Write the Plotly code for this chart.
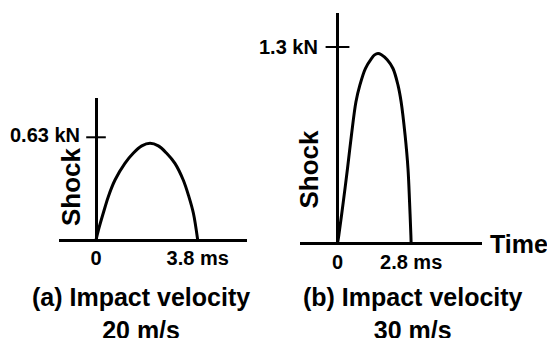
import plotly.graph_objects as go

# ---- data ----
time_a = [0, 0.09, 0.27, 0.46, 0.71, 1.08, 1.39, 1.71, 2.02, 2.33, 2.64, 2.95, 3.26, 3.47, 3.64, 3.8]
shock_a = [0, 0.061, 0.164, 0.266, 0.368, 0.47, 0.532, 0.577, 0.593, 0.577, 0.532, 0.47, 0.368, 0.266, 0.164, 0]

time_b = [0, 0.05, 0.22, 0.38, 0.53, 0.70, 0.85, 1.06, 1.29, 1.41, 1.54, 1.67, 1.89, 2.11, 2.30, 2.42, 2.57, 2.68, 2.74, 2.79, 2.8]
shock_b = [0, 0.055, 0.275, 0.496, 0.716, 0.936, 1.047, 1.157, 1.223, 1.247, 1.256, 1.248, 1.215, 1.157, 1.047, 0.936, 0.716, 0.496, 0.275, 0.055, 0]

xtick_vals_a = [0, 3.8]
xtick_text_a = ["0", "3.8 ms"]
xtick_vals_b = [0, 2.8]
xtick_text_b = ["0", "2.8 ms"]

ymark_a = 0.63
ymark_text_a = "0.63 kN"
ymark_b = 1.3
ymark_text_b = "1.3 kN"

title_a = "(a) Impact velocity<br>20 m/s"
title_b = "(b) Impact velocity<br>30 m/s"
ylabel = "Shock"
xlabel = "Time"

FONT = "Liberation Sans, Arial, Helvetica, sans-serif"
W, H = 547, 338


def f(size):
    return dict(family=FONT, size=size, color="black", weight="bold")


fig = go.Figure()

line_style = dict(color="black", width=3, shape="spline", smoothing=1.0)
fig.add_trace(go.Scatter(x=time_a, y=shock_a, mode="lines", line=line_style,
                         xaxis="x", yaxis="y", showlegend=False, hoverinfo="skip"))
fig.add_trace(go.Scatter(x=time_b, y=shock_b, mode="lines", line=line_style,
                         xaxis="x2", yaxis="y2", showlegend=False, hoverinfo="skip"))
# tick marks crossing the vertical axis
fig.add_trace(go.Scatter(x=[0], y=[ymark_a], mode="markers",
                         marker=dict(symbol="line-ew", size=14, line=dict(color="black", width=2)),
                         xaxis="x", yaxis="y", showlegend=False, hoverinfo="skip"))
fig.add_trace(go.Scatter(x=[0], y=[ymark_b], mode="markers",
                         marker=dict(symbol="line-ew", size=17, line=dict(color="black", width=2)),
                         xaxis="x2", yaxis="y2", showlegend=False, hoverinfo="skip"))

common_x = dict(showgrid=False, showline=False, zeroline=True, zerolinecolor="black",
                zerolinewidth=2.5, ticks="", tickfont=f(20), ticklabelstandoff=4, fixedrange=True)
common_y = dict(showgrid=False, showline=False, zeroline=True, zerolinecolor="black",
                zerolinewidth=2.5, showticklabels=False, ticks="", fixedrange=True)

fig.update_layout(
    width=W, height=H,
    margin=dict(l=0, r=0, t=0, b=0),
    paper_bgcolor="white", plot_bgcolor="white",
    xaxis=dict(domain=[59 / W, 247 / W], range=[-1.383, 5.643],
               tickvals=xtick_vals_a, ticktext=xtick_text_a, anchor="y", **common_x),
    yaxis=dict(domain=[(H - 240) / H, (H - 98) / H], range=[0, 0.871], anchor="x", **common_y),
    xaxis2=dict(domain=[300 / W, 481.7 / W], range=[-1.426, 5.483],
                tickvals=xtick_vals_b, ticktext=xtick_text_b, anchor="y2", **common_x),
    yaxis2=dict(domain=[(H - 243.5) / H, (H - 13) / H], range=[0, 1.524], anchor="x2", **common_y),
)

annotations = [
    dict(x=0, y=ymark_a, xref="x", yref="y", text=ymark_text_a, showarrow=False,
         xanchor="right", yanchor="middle", xshift=-14, yshift=2, font=f(20)),
    dict(x=0, y=ymark_b, xref="x2", yref="y2", text=ymark_text_b, showarrow=False,
         xanchor="right", yanchor="middle", xshift=-18, font=f(20)),
    dict(x=71 / W, y=(H - 186) / H, xref="paper", yref="paper", text=ylabel,
         textangle=-90, showarrow=False, xanchor="center", yanchor="middle", font=f(26)),
    dict(x=308.5 / W, y=(H - 169) / H, xref="paper", yref="paper", text=ylabel,
         textangle=-90, showarrow=False, xanchor="center", yanchor="middle", font=f(26)),
    dict(x=488 / W, y=(H - 244) / H, xref="paper", yref="paper", text=xlabel,
         showarrow=False, xanchor="left", yanchor="middle", font=f(25)),
    dict(x=141 / W, y=(H - 281) / H, xref="paper", yref="paper", text=title_a,
         showarrow=False, xanchor="center", yanchor="top", font=f(25)),
    dict(x=412.5 / W, y=(H - 281) / H, xref="paper", yref="paper", text=title_b,
         showarrow=False, xanchor="center", yanchor="top", font=f(25)),
]
fig.update_layout(annotations=annotations)

fig.write_html("out.html")
